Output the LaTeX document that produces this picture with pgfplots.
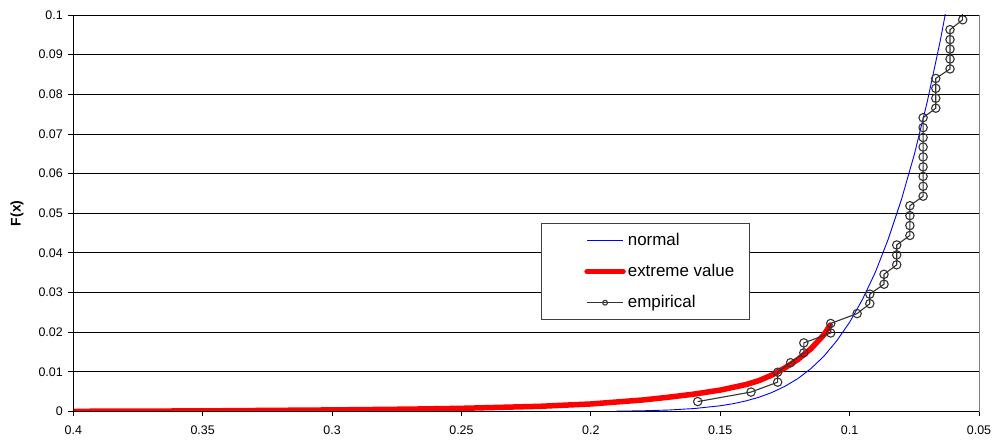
\documentclass[border=0pt]{standalone}
\usepackage{fontspec}
\setmainfont{Liberation Sans}
\usepackage{pgfplots}
\pgfplotsset{compat=1.18}
\begin{document}
\begin{tikzpicture}
\begin{axis}[
  name=ax,
  scale only axis,
  width=905.7bp, height=396.5bp,
  x dir=reverse,
  xmin=0.05, xmax=0.4,
  ymin=0, ymax=0.1,
  xtick={0.05,0.1,0.15,0.2,0.25,0.3,0.35,0.4},
  ytick={0,0.01,0.02,0.03,0.04,0.05,0.06,0.07,0.08,0.09,0.1},
  scaled x ticks=false, scaled y ticks=false,
  /pgf/number format/assume math mode=true,
  /pgf/number format/fixed,
  /pgf/number format/precision=2,
  ticklabel style={font=\fontsize{12.5}{14}\selectfont},
  xticklabel style={yshift=-6bp},
  yticklabel style={xshift=-2bp},
  tick align=outside, xtick pos=bottom, ytick pos=left,
  major tick length=5bp,
  tick style={black, line width=0.8bp},
  ymajorgrids, grid style={black, line width=0.8bp},
  axis line style={draw=black!50, line width=0.8bp},
  ylabel={\textbf{F(x)}},
  ylabel style={at={(axis description cs:-0.062,0.5)}, anchor=center, font=\fontsize{14}{16}\selectfont},
  legend cell align=left,
  legend style={at={(axis description cs:0.516,0.4746)}, anchor=north west,
    draw=black!75, line width=0.8bp, fill=white,
    inner xsep=13.5bp, inner ysep=7bp,
    font=\fontsize{17}{20}\selectfont,
    row sep=11bp,
    nodes={inner sep=2bp, text height=12.5bp, text depth=3.5bp},
    /tikz/every even column/.append style={column sep=0bp}},
  legend image code/.code={%
    \path (-29.8bp,0bp);
    \draw[mark repeat=2,mark phase=2,mark size=2.4bp,#1] plot coordinates {(0bp,0bp) (18bp,0bp) (36bp,0bp)};},
  after end axis/.code={%
    \draw[black, line width=0.8bp] (rel axis cs:0,0) -- (rel axis cs:0,1);
    \draw[black, line width=0.8bp] (rel axis cs:0,0) -- (rel axis cs:1,0);
    \draw[black, line width=0.8bp] (rel axis cs:0,1) -- (rel axis cs:1,1);},
]
% normal
\addplot[color=blue, line width=0.9bp, no marks] coordinates {
(0.19,0.00008) (0.18,0.00018) (0.17,0.00037) (0.16,0.00075) (0.15,0.00144)
(0.145,0.00197) (0.14,0.00268) (0.135,0.0036) (0.13,0.0048) (0.125,0.00635)
(0.12,0.0083) (0.115,0.0108) (0.11,0.0139) (0.105,0.0178) (0.10,0.0225)
(0.095,0.0283) (0.09,0.0352) (0.085,0.0436) (0.08,0.0534) (0.075,0.0648)
(0.07,0.0781) (0.065,0.0934) (0.06,0.1106)
};
\addlegendentry{normal}
% extreme value
\addplot[color=red, line width=5.5bp, no marks, line cap=round] coordinates {
(0.40,0.00005) (0.35,0.00015) (0.30,0.0004) (0.27,0.0006) (0.25,0.0008)
(0.22,0.0013) (0.20,0.0019) (0.18,0.0029) (0.17,0.0036) (0.16,0.0044)
(0.15,0.0054) (0.14,0.0068) (0.135,0.0078) (0.13,0.0092) (0.125,0.0110)
(0.12,0.0131) (0.115,0.0158) (0.11,0.0193) (0.1075,0.0218)
};
\addlegendentry{extreme value}
% empirical
\addplot[color=black!80, line width=1.1bp, mark=o, mark size=4.2bp, mark options={line width=1.1bp}] coordinates {
(0.1587,0.0025) (0.1381,0.0049) (0.1278,0.0074) (0.1278,0.0099) (0.1228,0.0123)
(0.1177,0.0148) (0.1177,0.0173) (0.1073,0.0198) (0.1073,0.0222) (0.0971,0.0247)
(0.0922,0.0272) (0.0922,0.0296) (0.0867,0.0321) (0.0867,0.0346) (0.0818,0.0370)
(0.0818,0.0395) (0.0818,0.0420) (0.0767,0.0444) (0.0767,0.0469) (0.0767,0.0494)
(0.0767,0.0519) (0.0716,0.0543) (0.0716,0.0568) (0.0716,0.0593) (0.0716,0.0617)
(0.0716,0.0642) (0.0716,0.0667) (0.0716,0.0691) (0.0716,0.0716) (0.0716,0.0741)
(0.0667,0.0765) (0.0667,0.0790) (0.0667,0.0815) (0.0667,0.0840) (0.0612,0.0864)
(0.0612,0.0889) (0.0612,0.0914) (0.0612,0.0938) (0.0612,0.0963) (0.0563,0.0988)
};
\addlegendentry{empirical}
\addplot[color=black!80, line width=1.1bp, no marks, forget plot] coordinates {
(0.0563,0.0988) (0.0563,0.1015)
};
\end{axis}
\pgfresetboundingbox
\path ([shift={(-73.3bp,-32.5bp)}]ax.south west) rectangle ([shift={(16bp,15bp)}]ax.north east);
\end{tikzpicture}
\end{document}
